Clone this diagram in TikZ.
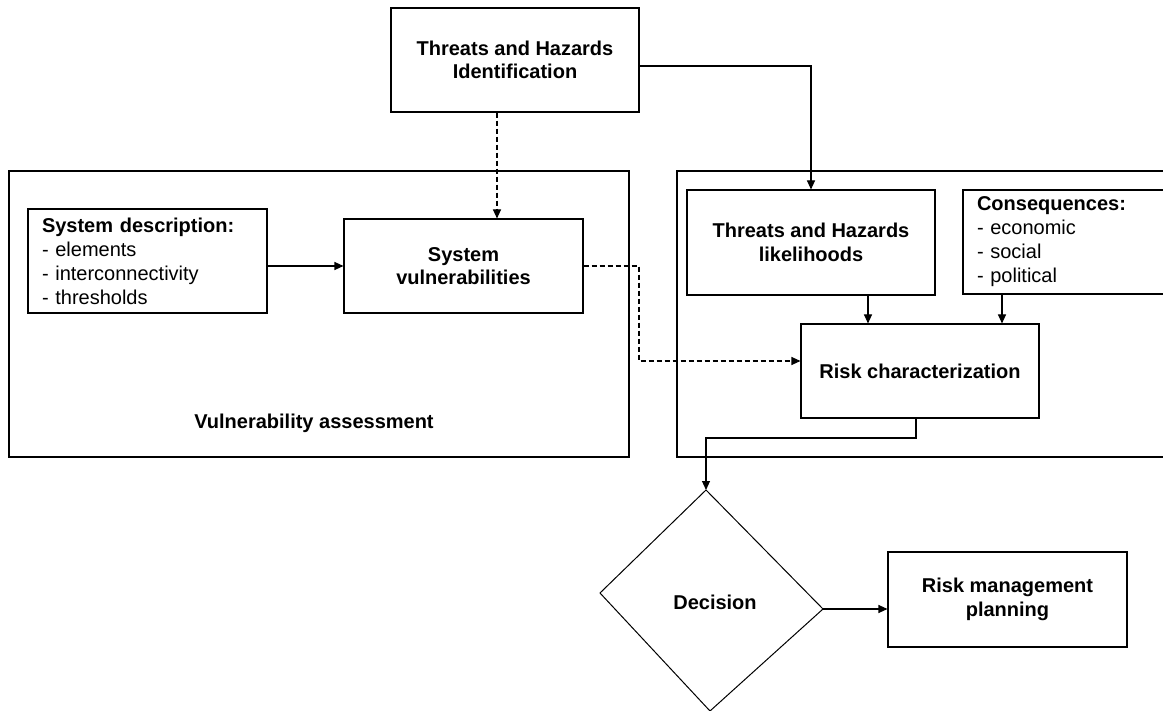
\documentclass[tikz,border=0pt]{standalone}
\usepackage{fontspec}
\setmainfont{Liberation Sans}
\usetikzlibrary{arrows.meta}
\begin{document}
\begin{tikzpicture}[x=1pt,y=-1pt,
  box/.style={draw, line width=1.1pt, inner sep=0pt, align=center,
    font=\bfseries\fontsize{20}{23.5}\selectfont},
  listbox/.style={draw, line width=1.1pt, inner xsep=14pt, inner ysep=0pt,
    align=left, font=\fontsize{20}{24}\selectfont},
  frame/.style={draw, line width=1.1pt},
  lbl/.style={font=\bfseries\fontsize{20}{23.5}\selectfont},
  conn/.style={line width=1.1pt, -{Triangle[length=9pt,width=8pt]}},
  dashconn/.style={conn, dash pattern=on 5pt off 3pt}]
\useasboundingbox (0,0) rectangle (1163,711);
\clip (0,0) rectangle (1163,711);
\fill[white] (0,0) rectangle (1163,711);

% containers
\draw[frame] (9,171) rectangle (629,457);
\draw[frame] (677,171) rectangle (1220,457);
\node[lbl] (va) at (314,423) {Vulnerability assessment};

% boxes
\node[box, minimum width=248pt, minimum height=104pt] (thid) at (515,60)
  {Threats and Hazards\\Identification};
\node[listbox, minimum width=239pt, minimum height=104pt, text width=211pt] (sd) at (147.5,261)
  {\textbf{System description:}\\- elements\\- interconnectivity\\- thresholds};
\node[box, minimum width=239pt, minimum height=94pt] (sv) at (463.5,266)
  {System\\vulnerabilities};
\node[box, minimum width=248pt, minimum height=105pt] (lik) at (811,242.5)
  {Threats and Hazards\\likelihoods};
\node[listbox, minimum width=246pt, minimum height=104pt, text width=218pt] (cons) at (1086,242)
  {\textbf{Consequences:}\\- economic\\- social\\- political};
\node[box, minimum width=238pt, minimum height=94pt] (rc) at (920,371)
  {Risk characterization};
\node[box, minimum width=239pt, minimum height=95pt] (rmp) at (1007.5,599.5)
  {Risk management\\planning};

% decision diamond
\coordinate (dtop) at (706,490);
\coordinate (dright) at (823,609);
\coordinate (dbot) at (710,711);
\coordinate (dleft) at (600,593);
\draw[line width=1pt] (dtop) -- (dright) -- (dbot) -- (dleft) -- cycle;
\node[lbl] (dec) at (715,602) {Decision};

% connectors
\draw[conn] (thid.east |- 0,66) -| (lik.north);
\draw[dashconn] (thid.south -| 497,0) -- (sv.north -| 497,0);
\draw[conn] (sd.east |- sv.west) -- (sv.west);
\coordinate (b1) at (639,361);
\draw[dashconn] (sv.east) -| (b1) -- (b1 -| rc.west);
\draw[conn] (lik.south -| 868,0) -- (rc.north -| 868,0);
\draw[conn] (cons.south -| 1002,0) -- (rc.north -| 1002,0);
\coordinate (b2) at (706,438);
\draw[conn] (rc.south -| 916,0) |- (b2) -- (dtop);
\draw[conn] (dright) -- (dright -| rmp.west);
\end{tikzpicture}
\end{document}
